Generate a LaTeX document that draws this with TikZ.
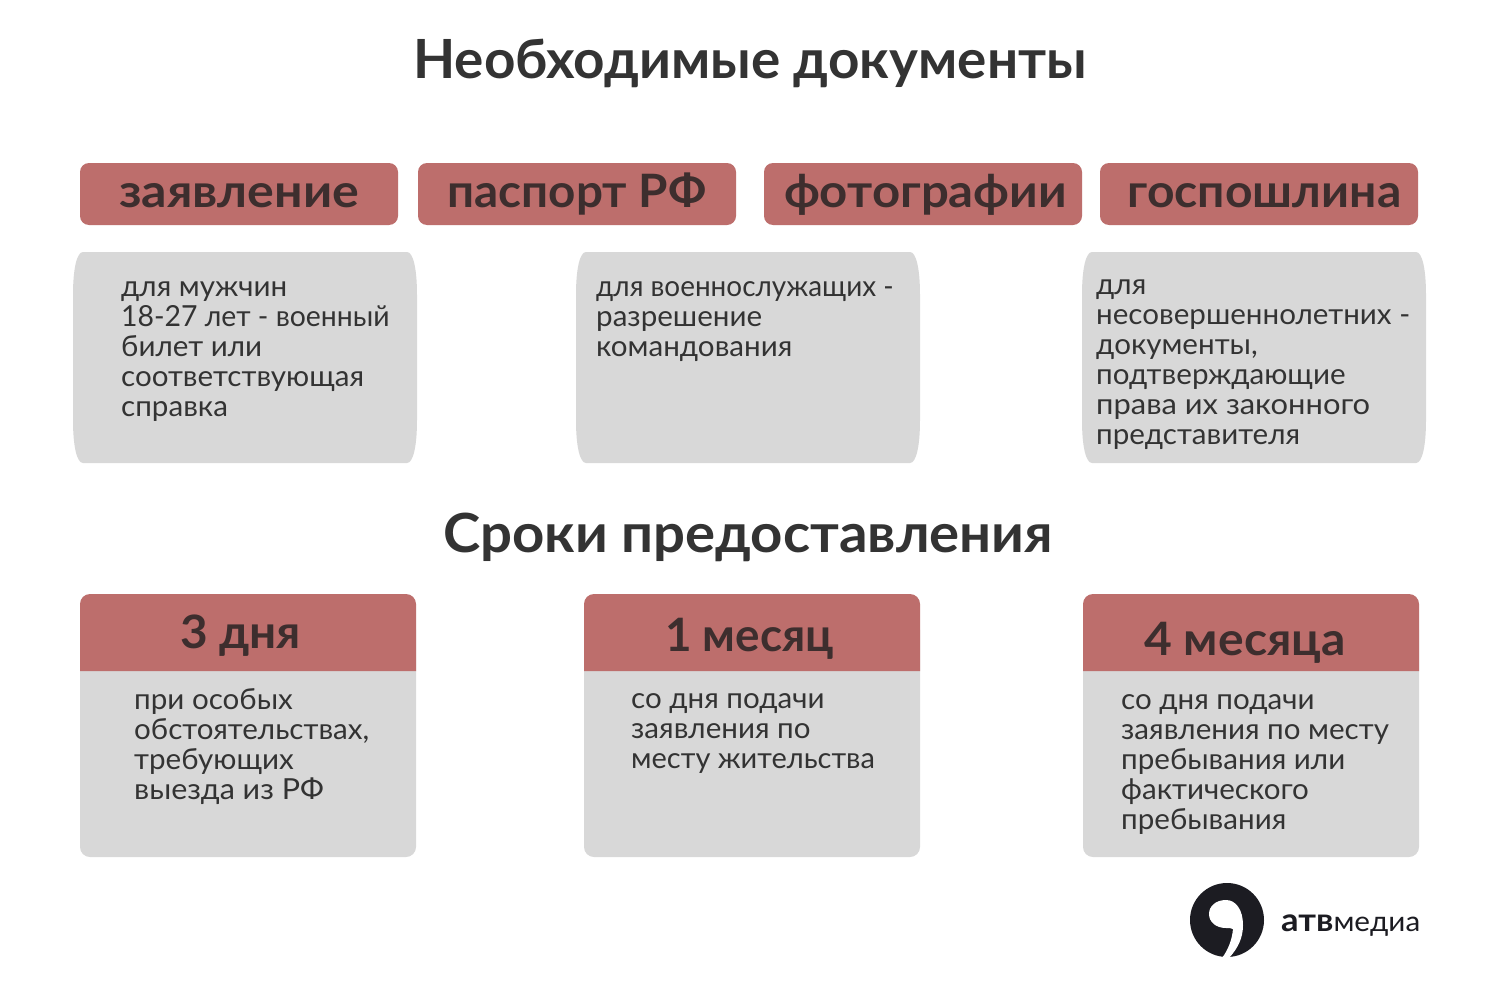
\documentclass[tikz,border=0pt]{standalone}
\usepackage{graphicx}
\usepackage{fontspec}
\setmainfont{Lato}
\newfontfamily\titlefont[FakeStretch=1.015]{Lato}
\newfontfamily\headfont[FakeStretch=1.09]{Lato}
\newfontfamily\bodyfont[FakeStretch=1.02]{Lato}
\definecolor{rose}{HTML}{BD6E6C}
\definecolor{panel}{HTML}{D8D8D8}
\definecolor{ink}{HTML}{333333}
\definecolor{dark}{HTML}{3D2E2E}
\definecolor{logoink}{HTML}{1C1C22}
\newcommand{\hw}[2]{\scalebox{#1}[1]{#2}}
\newcommand{\firstline}{\rule{0pt}{25pt}}
\tikzset{
 x=1pt,y=-1pt,
 tag/.style={fill=rose,rounded corners=9pt},
 title/.style={font=\titlefont\fontsize{54}{60}\selectfont\bfseries,text=ink,inner sep=0pt,anchor=base},
 head/.style={font=\headfont\fontsize{46}{50}\selectfont\bfseries,text=dark,inner sep=0pt,anchor=base},
 body/.style={font=\bodyfont\fontsize{29}{30}\selectfont,text=ink,inner sep=0pt,anchor=north west,align=left},
}
\newcommand{\bulge}[1]{%
 \fill[panel] (#1+10,252) -- (#1+334,252) .. controls (#1+340,252) and (#1+344,268) .. (#1+344,295)
  -- (#1+344,420) .. controls (#1+344,447) and (#1+340,463) .. (#1+334,463)
  -- (#1+10,463) .. controls (#1+4,463) and (#1,447) .. (#1,420)
  -- (#1,295) .. controls (#1,268) and (#1+4,252) .. (#1+10,252) -- cycle;}
\newcommand{\termcard}[1]{%
 \fill[panel,rounded corners=10pt] (#1,620) rectangle (#1+336,857);
 \fill[rose] (#1,671) [rounded corners=10pt] -- (#1,594) -- (#1+336,594) [sharp corners] -- (#1+336,671) -- cycle;}
\begin{document}
\begin{tikzpicture}
\useasboundingbox (0,0) rectangle (1492,982);
\fill[white] (0,0) rectangle (1492,982);
\node[title] (t1) at (750,78) {Необходимые документы};
\fill[tag] (80,163) rectangle (398,225);
\fill[tag] (418,163) rectangle (736,225);
\fill[tag] (764,163) rectangle (1082,225);
\fill[tag] (1100,163) rectangle (1418,225);
\node[head] (h1) at (239,207) {заявление};
\node[head] (h2) at (577,207) {\hw{.949}{паспорт РФ}};
\node[head] (h3) at (925.5,207) {\hw{.98}{фотографии}};
\node[head] (h4) at (1264.5,207) {\hw{.958}{госпошлина}};
\bulge{73}
\bulge{576}
\bulge{1082}
\node[body] (b1) at (121,271) {\firstline для мужчин\\\hw{.96}{18-27 лет - военный}\\билет или\\соответствующая\\справка};
\node[body] (b2) at (596,271) {\firstline\hw{.943}{для военнослужащих -}\\разрешение\\командования};
\node[body] (b3) at (1096,269) {\firstline для\\несовершеннолетних -\\документы,\\подтверждающие\\\hw{1.045}{права их законного}\\представителя};
\node[title] (t2) at (748,552) {\hw{1.027}{Сроки предоставления}};
\termcard{80}
\termcard{584}
\termcard{1083}
\node[head] (d1) at (240.5,648) {\hw{.952}{3 дня}};
\node[head] (d2) at (749.5,651) {\hw{.913}{1 месяц}};
\node[head] (d3) at (1245,655) {\hw{.957}{4 месяца}};
\node[body] (c1) at (134,684) {\firstline при особых\\обстоятельствах,\\требующих\\\hw{1.03}{выезда из РФ}};
\node[body] (c2) at (631,683) {\firstline со дня подачи\\заявления по\\\hw{.98}{месту жительства}};
\node[body] (c3) at (1121,684) {\firstline со дня подачи\\заявления по месту\\пребывания или\\фактического\\пребывания};
% logo
\fill[logoink] (1227,920) circle[radius=37];
\fill[white] (1226,900) .. controls (1216,900) and (1209,906) .. (1209,914) .. controls (1209,922) and (1216,928) .. (1226,928)
 .. controls (1229,928) and (1231,928) .. (1233,929) .. controls (1232,940) and (1228,950) .. (1222,958)
 -- (1229,958) .. controls (1238,948) and (1243,938) .. (1243,925) .. controls (1243,910) and (1236,900) .. (1226,900) -- cycle;
\node[font=\fontsize{32}{30}\selectfont\bfseries,text=logoink,inner sep=0pt,anchor=base west] (logo) at (1281,931) {\hw{1.08}{атв}\fontsize{28}{30}\selectfont\mdseries\hw{1.06}{медиа}};
\end{tikzpicture}
\end{document}
